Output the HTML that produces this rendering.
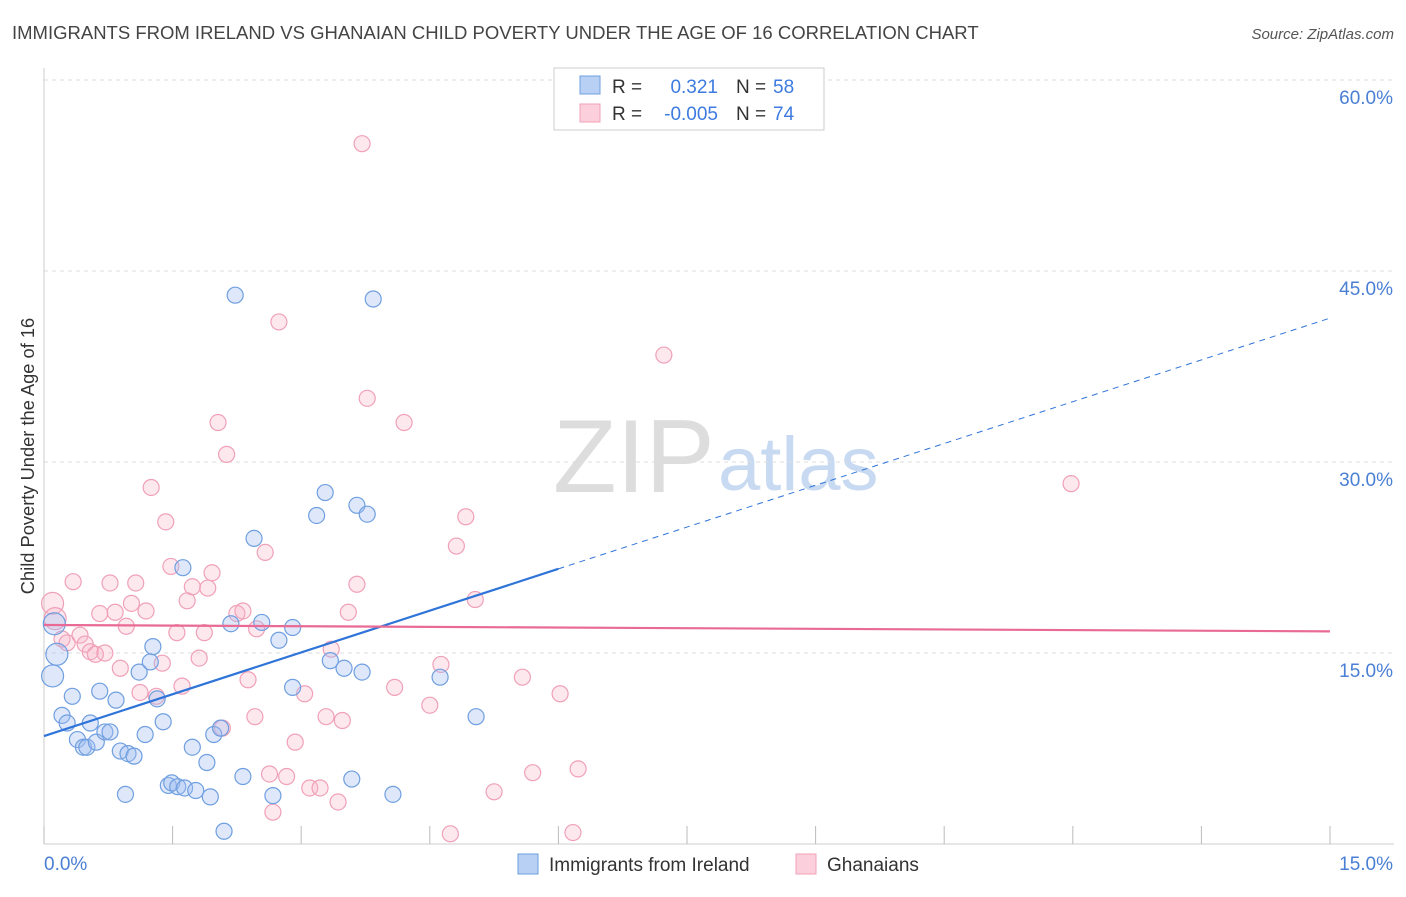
<!DOCTYPE html>
<html><head><meta charset="utf-8"><style>
body{margin:0;background:#fff;font-family:"Liberation Sans",sans-serif}
svg text{font-family:"Liberation Sans",sans-serif}
</style></head><body>
<svg id="chart" width="1406" height="892" xmlns="http://www.w3.org/2000/svg">
<text x="12" y="39" font-size="18.5" fill="#444">IMMIGRANTS FROM IRELAND VS GHANAIAN CHILD POVERTY UNDER THE AGE OF 16 CORRELATION CHART</text>
<text x="1394" y="39" font-size="15" fill="#555" font-style="italic" text-anchor="end">Source: ZipAtlas.com</text>
<g>
<text x="553" y="492" font-size="104" fill="#ddd" font-family="Liberation Serif">ZIP</text>
<text x="718" y="490" font-size="76" fill="#c8daf2">atlas</text>
</g>
<g id="grid"></g><g id="axes"></g><g id="pts"></g><g id="trends"></g>
<text transform="translate(34,456) rotate(-90)" font-size="18.3" fill="#333" text-anchor="middle">Child Poverty Under the Age of 16</text>
<g>
<rect x="554" y="68" width="270" height="62" fill="#fff" stroke="#ccc"/>
<rect x="580" y="76" width="20" height="18" fill="#b8d0f4" stroke="#6f9fe0"/>
<rect x="580" y="104" width="20" height="18" fill="#fbd0dc" stroke="#f0a0b8"/>
<text x="612" y="93" font-size="19" fill="#333">R =</text>
<text x="718" y="93" font-size="19" fill="#3d7be0" text-anchor="end">0.321</text>
<text x="736" y="93" font-size="19" fill="#333">N =</text>
<text x="773" y="93" font-size="19" fill="#3d7be0">58</text>
<text x="612" y="120" font-size="19" fill="#333">R =</text>
<text x="718" y="120" font-size="19" fill="#3d7be0" text-anchor="end">-0.005</text>
<text x="736" y="120" font-size="19" fill="#333">N =</text>
<text x="773" y="120" font-size="19" fill="#3d7be0">74</text>
</g>
<g>
<rect x="518" y="854" width="20" height="20" fill="#b8d0f4" stroke="#6f9fe0"/>
<text x="549" y="871" font-size="19" fill="#333">Immigrants from Ireland</text>
<rect x="796" y="854" width="20" height="20" fill="#fbd0dc" stroke="#f0a0b8"/>
<text x="827" y="871" font-size="19" fill="#333">Ghanaians</text>
</g>
</svg>
<script>
const yTicks=[15,30,45,60];
const yTickLabels=["15.0%","30.0%","45.0%","60.0%"];
const xTickVals=[0,1.5,3,4.5,6,7.5,9,10.5,12,13.5,15];
const blueX=[0.12,0.15,0.1,0.21,0.27,0.33,0.39,0.46,0.5,0.54,0.61,0.65,0.71,0.77,0.84,0.89,0.95,0.98,1.05,1.11,1.18,1.24,1.27,1.32,1.39,1.45,1.49,1.56,1.62,1.64,1.73,1.77,1.9,1.94,1.98,2.06,2.1,2.18,2.23,2.32,2.45,2.54,2.67,2.74,2.9,2.9,3.18,3.28,3.34,3.5,3.59,3.65,3.71,3.77,3.84,4.07,4.62,5.04];
const blueY=[17.3,14.9,13.2,10.1,9.5,11.6,8.2,7.6,7.6,9.5,8.0,12.0,8.8,8.8,11.3,7.3,3.9,7.1,6.9,13.5,8.6,14.3,15.5,11.4,9.6,4.6,4.8,4.5,21.7,4.4,7.6,4.2,6.4,3.7,8.6,9.1,1.0,17.3,43.1,5.3,24.0,17.4,3.8,16.0,12.3,17.0,25.8,27.6,14.4,13.8,5.1,26.6,13.5,25.9,42.8,3.9,13.1,10.0];
const pinkX=[0.1,0.13,0.21,0.27,0.34,0.42,0.48,0.54,0.6,0.65,0.71,0.77,0.83,0.89,0.96,1.02,1.07,1.12,1.19,1.25,1.31,1.38,1.42,1.48,1.55,1.61,1.67,1.73,1.81,1.87,1.91,1.96,2.03,2.08,2.13,2.25,2.32,2.38,2.46,2.48,2.58,2.63,2.67,2.74,2.83,2.93,3.04,3.1,3.22,3.29,3.35,3.43,3.48,3.55,3.65,3.71,3.77,4.09,4.2,4.5,4.63,4.74,4.81,4.92,5.03,5.25,5.58,5.7,6.02,6.17,6.23,7.23,11.98];
const pinkY=[18.9,17.7,16.1,15.8,20.6,16.4,15.7,15.1,14.9,18.1,15.0,20.5,18.2,13.8,17.1,18.9,20.5,11.9,18.3,28.0,11.6,14.2,25.3,21.8,16.6,12.4,19.1,20.2,14.6,16.6,20.1,21.3,33.1,9.1,30.6,18.1,18.3,12.9,10.0,16.9,22.9,5.5,2.5,41.0,5.3,8.0,11.8,4.4,4.4,10.0,15.3,3.3,9.7,18.2,20.4,55.0,35.0,12.3,33.1,10.9,14.1,0.8,23.4,25.7,19.2,4.1,13.1,5.6,11.8,0.9,5.9,38.4,28.3];
const blueTrend=[8.48,41.3], pinkTrend=[17.2,16.7];
const NS="http://www.w3.org/2000/svg";
const X=v=>44+v/15*1286, Y=v=>844-v/15*191;
function mk(t,a,p){const e=document.createElementNS(NS,t);for(const k in a)e.setAttribute(k,a[k]);p.appendChild(e);return e;}
const grid=document.getElementById('grid'),axes=document.getElementById('axes'),pts=document.getElementById('pts'),tr=document.getElementById('trends');
yTicks.forEach((v,i)=>{
 const l=mk('line',{x1:44,x2:1394,y1:Y(v),y2:Y(v),stroke:'#ddd','stroke-dasharray':'4,4'},grid);
 
 
 const t=mk('text',{x:1393,y:Y(v)+24,'font-size':19,fill:'#4a7fd4','text-anchor':'end'},axes);t.textContent=yTickLabels[i];
 
 
});
mk('line',{x1:44,x2:44,y1:68,y2:844,stroke:'#ccc'},axes);
mk('line',{x1:44,x2:1394,y1:844,y2:844,stroke:'#ccc'},axes);
xTickVals.forEach(v=>{const l=mk('line',{x1:X(v),x2:X(v),y1:826,y2:844,stroke:'#bbb'},axes);
 
 });
let t=mk('text',{x:44,y:870,'font-size':19,fill:'#4a7fd4'},axes);t.textContent='0.0%';


t=mk('text',{x:1393,y:870,'font-size':19,fill:'#4a7fd4','text-anchor':'end'},axes);t.textContent='15.0%';


function dots(xs,ys,fill,stroke,name){xs.forEach((x,i)=>{const big=i<3&&x<0.2;
 const c=mk('circle',{cx:X(x),cy:Y(ys[i]),r:big?11:8,fill:fill,stroke:stroke,'stroke-width':1.2},pts);
 
 });}
dots(pinkX,pinkY,'rgba(248,180,200,0.3)','#f0a0b8','point-ghanaians');
dots(blueX,blueY,'rgba(160,190,240,0.35)','#6f9fe0','point-ireland');
const bAt=x=>blueTrend[0]+(blueTrend[1]-blueTrend[0])*x/15;
let l=mk('line',{x1:X(0),y1:Y(bAt(0)),x2:X(6),y2:Y(bAt(6)),stroke:'#2f74d8','stroke-width':2.2},tr);


l=mk('line',{x1:X(6),y1:Y(bAt(6)),x2:X(15),y2:Y(bAt(15)),stroke:'#2f74d8','stroke-width':1,'stroke-dasharray':'6,5'},tr);


l=mk('line',{x1:X(0),y1:Y(pinkTrend[0]),x2:X(15),y2:Y(pinkTrend[1]),stroke:'#e86a95','stroke-width':2.2},tr);


</script>
</body></html>
